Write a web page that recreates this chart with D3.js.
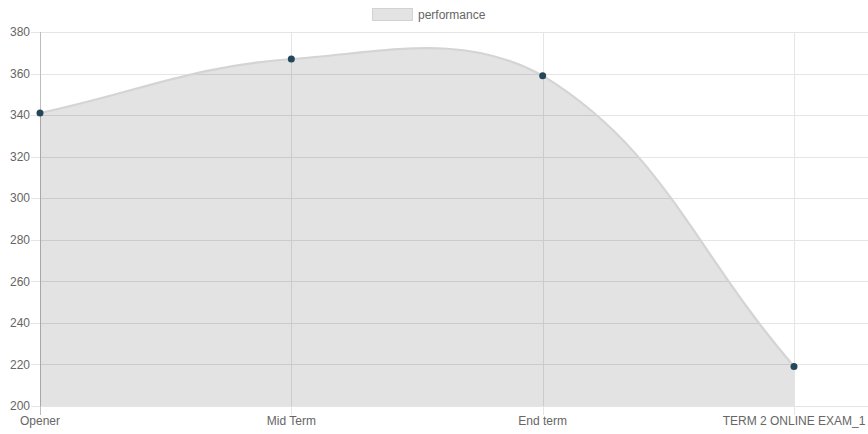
<!DOCTYPE html>
<html><head><meta charset="utf-8">
<script src="https://cdn.jsdelivr.net/npm/d3@7"></script>
<style>body{margin:0;background:#fff}svg{display:block}text{font-family:"Liberation Sans",Arial,Helvetica,sans-serif}</style>
</head><body><svg id="c" width="868" height="434"></svg>
<script>
const categories = ["Opener", "Mid Term", "End term", "TERM 2 ONLINE EXAM_1"];
const performance = [341, 367, 359, 219];
const yTicks = [200, 220, 240, 260, 280, 300, 320, 340, 360, 380];
const seriesName = "performance";

(function () {
const W = 868, H = 434;
const pL = 40, pR = 794, pT = 32, pB = 406;
const svg = d3.select("#c");

const x = d3.scalePoint().domain(categories).range([pL, pR]);
const y = d3.scaleLinear().domain([200, 380]).range([pB, pT]);

const grid = "#e5e5e5";
svg.append("g").selectAll("line").data(yTicks).join("line")
  .attr("x1", pL - 9).attr("x2", W).attr("y1", d => Math.round(y(d)) + 0.5).attr("y2", d => Math.round(y(d)) + 0.5)
  .attr("stroke", grid).attr("stroke-width", 1);
svg.append("g").selectAll("line").data(categories).join("line")
  .attr("x1", d => Math.round(x(d)) + 0.5).attr("x2", d => Math.round(x(d)) + 0.5)
  .attr("y1", pT).attr("y2", pB + 9)
  .attr("stroke", (d, i) => i === 0 ? "#bdbdbd" : grid).attr("stroke-width", 1);

const pts = performance.map((v, i) => ({ x: x(categories[i]), y: y(v) }));
const t = 0.4;
pts.forEach((p, i) => {
  const prev = pts[i - 1] || p, next = pts[i + 1] || p;
  const d01 = Math.hypot(p.x - prev.x, p.y - prev.y);
  const d12 = Math.hypot(next.x - p.x, next.y - p.y);
  let s01 = d01 / (d01 + d12), s12 = d12 / (d01 + d12);
  if (isNaN(s01)) s01 = 0; if (isNaN(s12)) s12 = 0;
  const fa = t * s01, fb = t * s12;
  p.cpPrev = { x: p.x - fa * (next.x - prev.x), y: p.y - fa * (next.y - prev.y) };
  p.cpNext = { x: p.x + fb * (next.x - prev.x), y: p.y + fb * (next.y - prev.y) };
  [p.cpPrev, p.cpNext].forEach(c => {
    c.x = Math.max(pL, Math.min(pR, c.x));
    c.y = Math.max(pT, Math.min(pB, c.y));
  });
});
function linePath(ctx) {
  ctx.moveTo(pts[0].x, pts[0].y);
  for (let i = 1; i < pts.length; i++) {
    const a = pts[i - 1], b = pts[i];
    ctx.bezierCurveTo(a.cpNext.x, a.cpNext.y, b.cpPrev.x, b.cpPrev.y, b.x, b.y);
  }
  return ctx;
}
const lp = linePath(d3.path()).toString();
const area = lp + `L${pts[pts.length - 1].x},${y(200)}L${pts[0].x},${y(200)}Z`;
svg.append("path").attr("d", area).attr("fill", "rgba(0,0,0,0.11)");
svg.append("path").attr("d", lp).attr("fill", "none").attr("stroke", "#d4d4d4").attr("stroke-width", 2.2);

svg.append("g").selectAll("circle").data(performance).join("circle")
  .attr("cx", (d, i) => x(categories[i])).attr("cy", d => y(d)).attr("r", 3.5)
  .attr("fill", "#24475a");

svg.append("g").selectAll("text").data(yTicks).join("text")
  .attr("x", 30).attr("y", d => y(d)).attr("dy", "0.35em").attr("text-anchor", "end")
  .attr("font-size", 12).attr("fill", "#666").text(d => d);
svg.append("g").selectAll("text").data(categories).join("text")
  .attr("x", d => x(d)).attr("y", 425).attr("text-anchor", "middle")
  .attr("font-size", 12).attr("fill", "#666").text(d => d);

svg.append("rect").attr("x", 372.5).attr("y", 8.5).attr("width", 40).attr("height", 12)
  .attr("fill", "#e3e3e3").attr("stroke", "#d2d2d2").attr("stroke-width", 1);
svg.append("text").attr("x", 418).attr("y", 19).attr("font-size", 12).attr("fill", "#666").text(seriesName);
})();
</script></body></html>
